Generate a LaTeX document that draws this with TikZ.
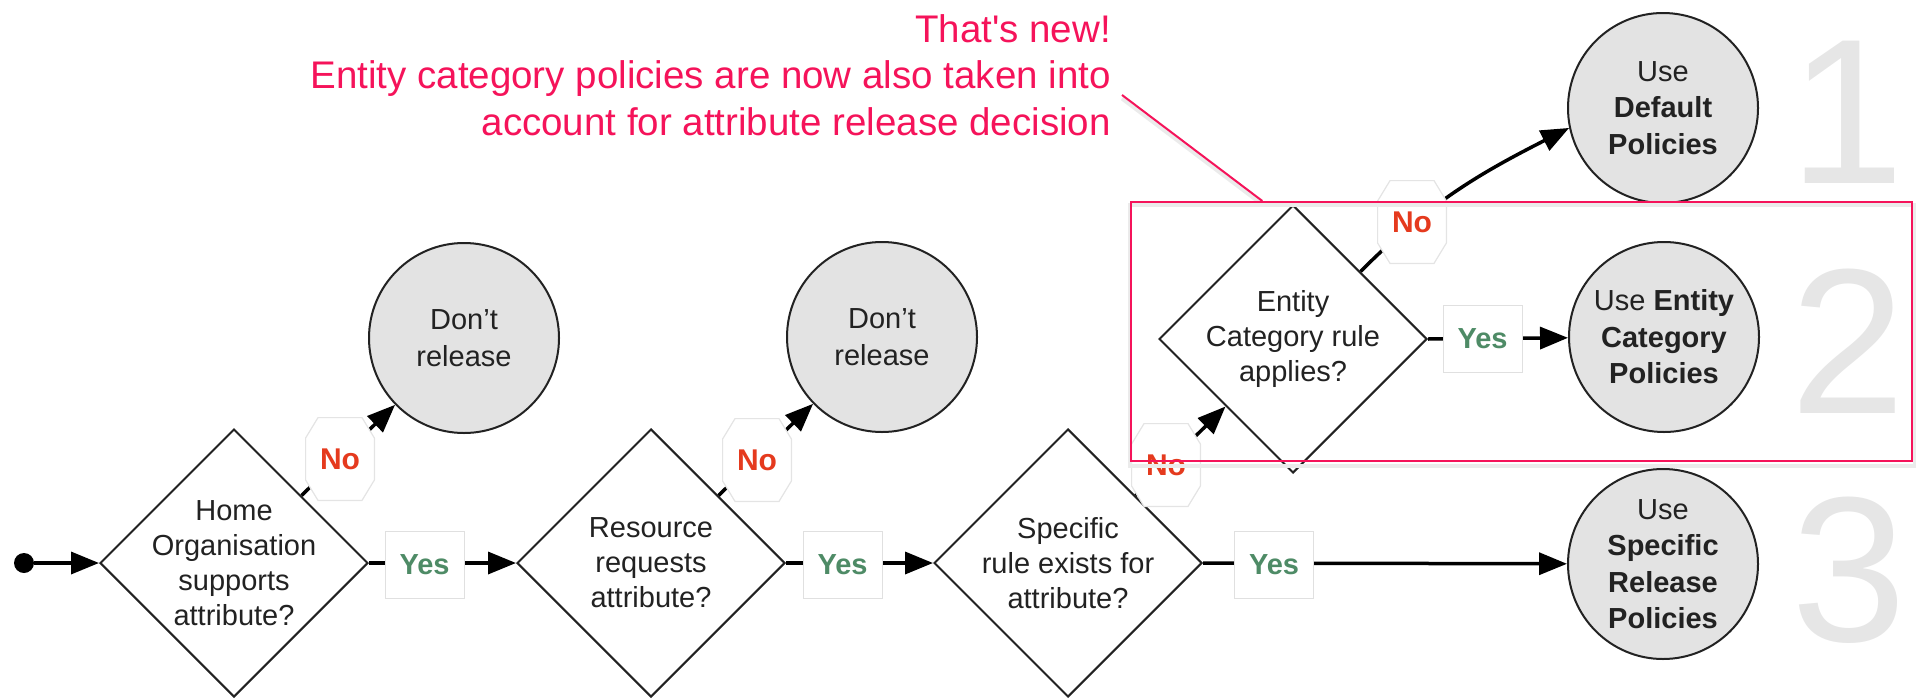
\documentclass[tikz,border=0pt]{standalone}
\usepackage{fontspec}
\setmainfont{Liberation Sans}
\usetikzlibrary{shapes.geometric,arrows.meta,calc}
\definecolor{pinkc}{HTML}{F5135A}
\definecolor{noRed}{HTML}{E53A1E}
\definecolor{yesGreen}{HTML}{4E8B66}
\definecolor{circFill}{HTML}{E3E3E3}
\definecolor{digitGray}{HTML}{E6E6E6}
\definecolor{txt}{HTML}{222222}
\definecolor{lblBorder}{HTML}{E4E4E4}
\begin{document}
\begin{tikzpicture}[x=1pt,y=-1pt,
  dia/.style={diamond, aspect=1, draw=txt, line width=2pt, fill=white,
    minimum width=268pt, minimum height=268pt, inner sep=0pt},
  dtext/.style={align=center, text=txt, font=\fontsize{29}{35}\selectfont},
  circ/.style={circle, draw=txt, line width=2pt, fill=circFill, minimum size=190pt,
    inner sep=0pt, align=center, text=txt, font=\fontsize{29}{36.5}\selectfont},
  startdot/.style={circle, fill=black, minimum size=20pt, inner sep=0pt},
  arr/.style={line width=3.5pt, -{Triangle[length=28pt,width=22pt]}},
  yesb/.style={rectangle, draw=black!12, line width=1pt, fill=white,
    minimum width=79pt, minimum height=67pt, inner sep=0pt, text=yesGreen,
    font=\bfseries\fontsize{29}{29}\selectfont},
  nolbl/.style={rectangle, minimum width=70pt, minimum height=84pt, inner sep=0pt,
    text=noRed, font=\bfseries\fontsize{30}{30}\selectfont,
    path picture={\path[fill=white, draw=lblBorder, line width=1.2pt]
      ([shift={(13pt,-0.6pt)}]path picture bounding box.north west)
      -- ([shift={(-13pt,-0.6pt)}]path picture bounding box.north east)
      -- ([shift={(-0.6pt,-21pt)}]path picture bounding box.north east)
      -- ([shift={(-0.6pt,21pt)}]path picture bounding box.south east)
      -- ([shift={(-13pt,0.6pt)}]path picture bounding box.south east)
      -- ([shift={(13pt,0.6pt)}]path picture bounding box.south west)
      -- ([shift={(0.6pt,21pt)}]path picture bounding box.south west)
      -- ([shift={(0.6pt,-21pt)}]path picture bounding box.north west)
      -- cycle;}},
  digit/.style={text=digitGray, font=\fontsize{207}{207}\selectfont, inner sep=0pt, anchor=base},
  hlbox/.style={rectangle, draw=pinkc, line width=2pt, inner sep=0pt,
    minimum width=781pt, minimum height=259pt},
  hlshadow/.style={draw=black!8, line width=4pt},
  anntext/.style={align=right, text=pinkc, inner sep=0pt,
    font=\fontsize{38.5}{46.5}\selectfont}
]
\useasboundingbox (0,0) rectangle (1916,699);

% decision diamonds
\node[dia, label={[dtext]center:{Home\\Organisation\\supports\\attribute?}}] (d1) at (234,563) {};
\node[dia, label={[dtext]center:{Resource\\requests\\attribute?}}] (d2) at (651,563) {};
\node[dia, label={[dtext]center:{Specific\\rule exists for\\attribute?}}] (d3) at (1068,563) {};
\node[dia, label={[dtext]center:{Entity\\Category rule\\applies?}}] (d4) at (1293,339) {};

% outcome circles
\node[circ] (r1) at (464,338) {Don’t\\release};
\node[circ] (r2) at (882,337) {Don’t\\release};
\node[circ] (pDef) at (1663,108) {Use\\\textbf{Default}\\\textbf{Policies}};
\node[circ] (pEnt) at (1664,337) {Use \textbf{Entity}\\\textbf{Category}\\\textbf{Policies}};
\node[circ] (pSpec) at (1663,564) {Use\\\textbf{Specific}\\\textbf{Release}\\\textbf{Policies}};

\node[startdot] (start) at (24,563) {};

% edge midpoints of diamonds
\coordinate (d1ne) at ($(d1.north)!0.5!(d1.east)$);
\coordinate (d2ne) at ($(d2.north)!0.5!(d2.east)$);
\coordinate (d3ne) at ($(d3.north)!0.5!(d3.east)$);
\coordinate (d4ne) at ($(d4.north)!0.5!(d4.east)$);
\coordinate (d4sw) at ($(d4.south)!0.5!(d4.west)$);

% connectors
\draw[arr] (start) -- (d1.west);
\draw[arr] (d1.east) -- (d2.west);
\draw[arr] (d2.east) -- (d3.west);
\draw[arr] (d3.east) -- (pSpec);
\draw[arr] (d1ne) -- (r1);
\draw[arr] (d2ne) -- (r2);
\draw[arr] (d3ne) -- (d4sw);
\draw[arr] (d4.east) -- (pEnt);
\draw[arr] (d4ne) to[out=45,in=207] (pDef.192);

% connector labels
\node[yesb] (y1) at (424.5,565) {Yes};
\node[yesb] (y2) at (842.5,565) {Yes};
\node[yesb] (y3) at (1274,565) {Yes};
\node[yesb] (y4) at (1482.5,339) {Yes};
\node[nolbl] (n1) at (340,459) {No};
\node[nolbl] (n2) at (757,460) {No};
\node[nolbl] (n3) at (1166,465) {No};
\node[nolbl] (n4) at (1412,222) {No};

% big numbers
\node[digit] (g1) at (1847,183) {1};
\node[digit] (g2) at (1848,413) {2};
\node[digit] (g3) at (1849,641) {3};

% highlight box and annotation
\node[hlbox, draw=none] (hl) at (1521.5,331.5) {};
\coordinate (hlTop) at ($(hl.north west)!0.169!(hl.north east)$);
\coordinate (annEnd) at (1122,95);
\draw[hlshadow] ([yshift=-3.5pt]hl.north west) rectangle ([shift={(1.5pt,-3.5pt)}]hl.south east);
\draw[hlshadow] ([yshift=-3.5pt]annEnd) -- ([yshift=-3.5pt]hlTop);
\node[hlbox] (hlb) at (hl) {};
\draw[pinkc, line width=2pt] (annEnd) -- (hlTop);
\node[anntext, anchor=north east] (ann) at (1111,14)
  {That\textquotesingle s new!\\Entity category policies are now also taken into\\account for attribute release decision};
\end{tikzpicture}
\end{document}
